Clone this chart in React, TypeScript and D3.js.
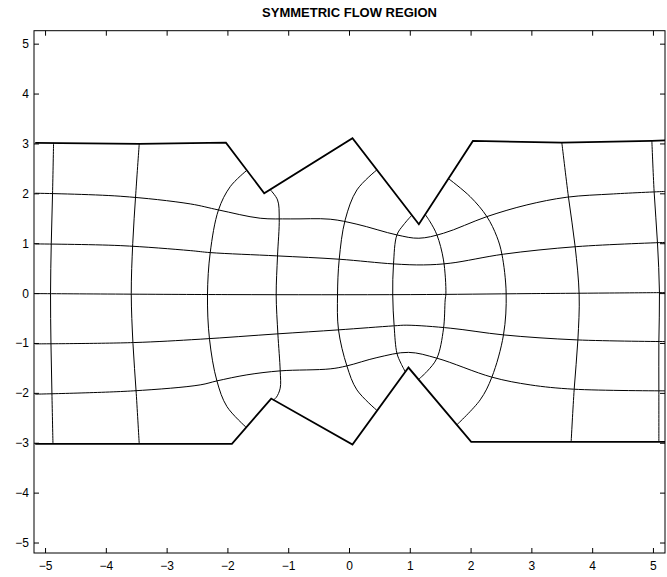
import React from "react";
import * as d3 from "d3";

type P = [number, number];

const TITLE = "SYMMETRIC FLOW REGION";
const xTicks = [-5, -4, -3, -2, -1, 0, 1, 2, 3, 4, 5];
const yTicks = [-5, -4, -3, -2, -1, 0, 1, 2, 3, 4, 5];

// Outer walls of the channel (thick lines)
const wallTop: P[] = [
  [-5.17, 3.02], [-3.46, 3.0], [-2.033, 3.026], [-1.403, 2.012], [0.049, 3.114],
  [1.141, 1.391], [2.03, 3.06], [3.493, 3.026], [4.974, 3.06], [5.19, 3.07],
];
const wallBottom: P[] = [
  [-5.17, -3.012], [-3.459, -3.012], [-1.934, -3.012], [-1.288, -2.104], [0.049, -3.026],
  [0.97, -1.483], [2.002, -2.972], [3.646, -2.972], [5.089, -2.972], [5.19, -2.972],
];

// Streamlines (horizontal-ish)
const stream2: P[] = [
  [-5.17, 2.012], [-3.772, 1.952], [-2.62, 1.798], [-2.155, 1.677], [-1.469, 1.511],
  [-0.975, 1.497], [-0.317, 1.491], [0.122, 1.391], [0.78, 1.176], [1.141, 1.11],
  [1.546, 1.21], [2.26, 1.543], [2.918, 1.778], [3.576, 1.932], [4.342, 1.998], [5.19, 2.048],
];
const stream1: P[] = [
  [-5.17, 0.996], [-3.772, 0.962], [-2.62, 0.862], [-2.291, 0.822], [-1.194, 0.756],
  [-0.169, 0.689], [0.724, 0.595], [1.217, 0.575], [1.656, 0.609], [2.533, 0.79],
  [3.74, 0.942], [5.19, 1.026],
];
const stream0: P[] = [
  [-5.17, 0.0], [-2.0, -0.02], [1.0, -0.02], [3.0, 0.0], [5.19, 0.02],
];
const streamM1: P[] = [
  [-5.17, -1.008], [-3.558, -0.982], [-2.456, -0.914], [-1.194, -0.808], [-0.181, -0.727],
  [0.724, -0.647], [0.944, -0.633], [1.656, -0.693], [2.533, -0.828], [3.74, -0.928],
  [5.19, -0.962],
];
const streamM2: P[] = [
  [-5.17, -2.016], [-3.558, -1.95], [-2.456, -1.83], [-2.181, -1.75], [-1.688, -1.629],
  [-1.14, -1.549], [-0.317, -1.509], [-0.043, -1.449], [0.451, -1.283], [0.97, -1.178],
  [1.438, -1.295], [2.342, -1.675], [2.972, -1.83], [3.684, -1.916], [5.19, -1.95],
];

// Equipotential lines (vertical-ish)
const equiA: P[] = [
  [-4.868, 3.02], [-4.885, 2.0], [-4.906, 1.0], [-4.918, 0.0], [-4.911, -1.0],
  [-4.895, -2.0], [-4.878, -3.012],
];
const equiB: P[] = [
  [-3.459, 3.0], [-3.516, 2.0], [-3.566, 1.0], [-3.59, 0.0], [-3.562, -1.0],
  [-3.508, -2.0], [-3.459, -3.012],
];
const equiC: P[] = [
  [-1.69, 2.47], [-1.962, 2.144], [-2.155, 1.677], [-2.291, 0.822], [-2.336, -0.026],
  [-2.303, -0.914], [-2.181, -1.75], [-2.016, -2.265], [-1.7, -2.68],
];
const equiD: P[] = [
  [-1.31, 2.09], [-1.184, 1.878], [-1.156, 1.511], [-1.184, 0.756], [-1.206, -0.026],
  [-1.178, -0.808], [-1.14, -1.549], [-1.14, -1.896], [-1.206, -2.084], [-1.25, -2.13],
];
const equiE: P[] = [
  [0.45, 2.48], [0.122, 2.078], [-0.071, 1.477], [-0.169, 0.689], [-0.197, -0.026],
  [-0.181, -0.727], [-0.043, -1.449], [0.122, -1.93], [0.45, -2.34],
];
const equiF: P[] = [
  [1.026, 1.572], [0.888, 1.377], [0.78, 1.176], [0.724, 0.595], [0.711, -0.026],
  [0.735, -0.661], [0.78, -1.194], [0.845, -1.395], [0.92, -1.57],
];
const equiG: P[] = [
  [1.245, 1.586], [1.327, 1.437], [1.438, 1.176], [1.546, 0.675], [1.586, 0.008],
  [1.574, -0.126], [1.546, -0.707], [1.438, -1.295], [1.273, -1.563], [1.135, -1.72],
];
const equiH: P[] = [
  [1.628, 2.305], [1.985, 1.944], [2.26, 1.543], [2.424, 1.142], [2.507, 0.79],
  [2.577, 0.008], [2.533, -0.828], [2.342, -1.675], [2.15, -2.13], [1.766, -2.63],
];
const equiI: P[] = [
  [3.493, 3.026], [3.602, 1.932], [3.712, 0.942], [3.778, -0.026], [3.757, -0.928],
  [3.696, -1.916], [3.646, -2.972],
];
const equiJ: P[] = [
  [4.974, 3.06], [5.011, 2.044], [5.066, 1.022], [5.099, 0.02], [5.089, -0.962],
  [5.089, -1.95], [5.089, -2.972],
];

const streamlines = [stream2, stream1, stream0, streamM1, streamM2];
const equipotentials = [equiA, equiB, equiC, equiD, equiE, equiF, equiG, equiH, equiI, equiJ];
const walls = [wallTop, wallBottom];

const W = 667;
const H = 577;
const left = 34;
const right = 665;
const top = 30.7;
const bottom = 553;

export default function App() {
  React.useEffect(() => {
    document.body.style.margin = "0";
  }, []);

  const x = d3.scaleLinear().domain([-5.19, 5.19]).range([left, right]);
  const y = d3.scaleLinear().domain([-5.2, 5.27]).range([bottom, top]);

  const smooth = d3
    .line<P>()
    .x((d) => x(d[0]))
    .y((d) => y(d[1]))
    .curve(d3.curveCatmullRom.alpha(0.5));
  const straight = d3
    .line<P>()
    .x((d) => x(d[0]))
    .y((d) => y(d[1]));

  const tickLen = 5;
  const font = "'Liberation Sans', Arial, Helvetica, sans-serif";
  const fmt = (v: number) => (v < 0 ? "\u2212" + Math.abs(v) : String(v));

  return (
    <svg
      width={W}
      height={H}
      style={{ position: "absolute", left: 0, top: 0, display: "block", background: "#fff" }}
    >
      <defs>
        <clipPath id="plotClip">
          <rect x={left} y={top} width={right - left} height={bottom - top} />
        </clipPath>
      </defs>
      <rect x={0} y={0} width={W} height={H} fill="#fff" />
      <g clipPath="url(#plotClip)" fill="none" stroke="#000">
        {streamlines.map((s, i) => (
          <path key={"s" + i} d={smooth(s) || ""} strokeWidth={1} />
        ))}
        {equipotentials.map((s, i) => (
          <path key={"e" + i} d={smooth(s) || ""} strokeWidth={1} />
        ))}
        {walls.map((s, i) => (
          <path key={"w" + i} d={straight(s) || ""} strokeWidth={1.8} strokeLinejoin="miter" />
        ))}
      </g>
      {/* axes box */}
      <rect
        x={left}
        y={top}
        width={right - left}
        height={bottom - top}
        fill="none"
        stroke="#000"
        strokeWidth={1}
      />
      <g stroke="#000" strokeWidth={1}>
        {xTicks.map((t) => (
          <g key={"xt" + t}>
            <line x1={x(t)} x2={x(t)} y1={bottom} y2={bottom - tickLen} />
            <line x1={x(t)} x2={x(t)} y1={top} y2={top + tickLen} />
          </g>
        ))}
        {yTicks.map((t) => (
          <g key={"yt" + t}>
            <line x1={left} x2={left + tickLen} y1={y(t)} y2={y(t)} />
            <line x1={right} x2={right - tickLen} y1={y(t)} y2={y(t)} />
          </g>
        ))}
      </g>
      <g fontFamily={font} fontSize={12} fill="#000">
        {xTicks.map((t) => (
          <text key={"xl" + t} x={x(t)} y={bottom + 17} textAnchor="middle">
            {fmt(t)}
          </text>
        ))}
        {yTicks.map((t) => (
          <text key={"yl" + t} x={left - 5} y={y(t) + 4} textAnchor="end">
            {fmt(t)}
          </text>
        ))}
      </g>
      <text
        x={(left + right) / 2}
        y={17}
        textAnchor="middle"
        fontFamily={font}
        fontSize={13}
        fontWeight="bold"
        fill="#000"
      >
        {TITLE}
      </text>
    </svg>
  );
}
